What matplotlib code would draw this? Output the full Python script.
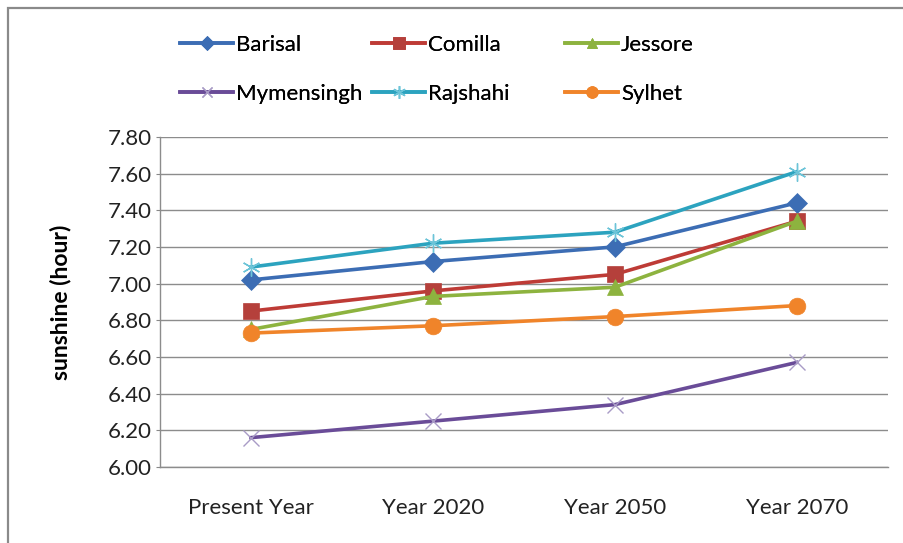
import matplotlib
matplotlib.use("Agg")
import matplotlib.pyplot as plt
from matplotlib.patches import Rectangle

plt.rcParams['font.family'] = ['Lato', 'DejaVu Sans']

categories = ["Present Year", "Year 2020", "Year 2050", "Year 2070"]
yticks = [6.00, 6.20, 6.40, 6.60, 6.80, 7.00, 7.20, 7.40, 7.60, 7.80]

barisal = [7.02, 7.12, 7.20, 7.44]
comilla = [6.85, 6.96, 7.05, 7.34]
jessore = [6.75, 6.93, 6.98, 7.34]
mymensingh = [6.16, 6.25, 6.34, 6.57]
rajshahi = [7.09, 7.22, 7.28, 7.61]
sylhet = [6.73, 6.77, 6.82, 6.88]

series = [
    ("Barisal", barisal, "#3C6DB4", "D", 10, "#3C6DB4"),
    ("Comilla", comilla, "#BE3B36", "s", 12, "#B5403B"),
    ("Jessore", jessore, "#8DB33F", "^", 11, "#8DB33F"),
    ("Mymensingh", mymensingh, "#6A4C98", "x", 11, "#A99BC6"),
    ("Rajshahi", rajshahi, "#2CA3BF", (6, 2, 0), 13, "#6CC4D8"),
    ("Sylhet", sylhet, "#F0842A", "o", 12, "#F0842A"),
]

fig = plt.figure(figsize=(9.04, 5.43), dpi=100)
ax = fig.add_axes([0.177, 0.140, 0.805, 0.608])

x = [i + 0.5 for i in range(len(categories))]
handles = []
for name, vals, color, marker, ms, mcolor in series:
    thin = marker == "x" or isinstance(marker, tuple)
    h, = ax.plot(x, vals, color=color, lw=2.6, marker=marker, markersize=ms,
                 markerfacecolor=mcolor, markeredgecolor=mcolor,
                 markeredgewidth=1.0 if thin else 0.5, label=name, zorder=3)
    handles.append(h)

ax.set_xlim(0, len(categories))
ax.set_ylim(6.0, 7.8)
ax.set_yticks(yticks)
ax.set_yticklabels([f"{v:.2f}" for v in yticks], fontsize=16, color="#222222")
ax.set_xticks(x)
ax.set_xticklabels(categories, fontsize=16, color="#222222")
ax.tick_params(axis="x", length=0, pad=22)
ax.tick_params(axis="y", length=3, color="#888888", pad=3)
ax.grid(axis="y", color="#8C8C8C", lw=1.0)
ax.set_axisbelow(True)
for s in ["top", "right"]:
    ax.spines[s].set_visible(False)
for s in ["left", "bottom"]:
    ax.spines[s].set_color("#8C8C8C")
    ax.spines[s].set_linewidth(1.0)
ax.set_ylabel("sunshine (hour)", fontsize=16.5, fontweight="bold", labelpad=26)

# legend laid out as three columns of two entries
col_x = [180 / 904, 372 / 904, 565 / 904]
for c in range(3):
    hs = [handles[c], handles[c + 3]]
    leg = fig.legend(hs, [h.get_label() for h in hs], loc="upper left",
                     bbox_to_anchor=(col_x[c], 1 - 35 / 543), frameon=False,
                     fontsize=16, handlelength=2.4, handletextpad=0.12,
                     labelspacing=1.3, borderpad=0, borderaxespad=0,
                     markerscale=0.7)
    fig.add_artist(leg)

# outer frame
fig.add_artist(Rectangle((8 / 904, -0.1), 1.2, 1 - 8 / 543 + 0.1,
                         transform=fig.transFigure, fill=False,
                         edgecolor="#8A8A8A", lw=1.6))

fig.savefig("out.png", dpi=100)
